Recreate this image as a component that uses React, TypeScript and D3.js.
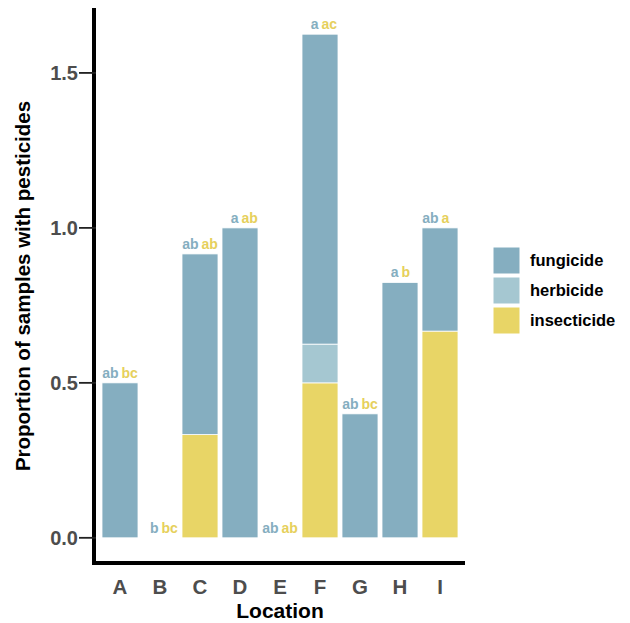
import React from "react";
import * as d3 from "d3";

const locations = ["A", "B", "C", "D", "E", "F", "G", "H", "I"];
const fungicide = [0.5, 0, 0.583, 1.0, 0, 1.0, 0.4, 0.824, 0.333];
const herbicide = [0, 0, 0, 0, 0, 0.125, 0, 0, 0];
const insecticide = [0, 0, 0.333, 0, 0, 0.5, 0, 0, 0.667];
const fungLetters = ["ab", "b", "ab", "a", "ab", "a", "ab", "a", "ab"];
const insectLetters = ["bc", "bc", "ab", "ab", "ab", "ac", "bc", "b", "a"];
const yTicks = [0, 0.5, 1.0, 1.5];

const keys = ["insecticide", "herbicide", "fungicide"];
const legendKeys = ["fungicide", "herbicide", "insecticide"];
const COLORS: Record<string, string> = {
  fungicide: "#85aec0",
  herbicide: "#a5c7d1",
  insecticide: "#e8d566",
};
const YELLOW_TXT = "#e6d05c";

const W = 630;
const H = 623;
const PL = 96, PR = 464, PT = 9, PB = 563;
const FONT = "'Liberation Sans', Arial, Helvetica, sans-serif";

export default function App() {
  const rows = locations.map((loc, i) => ({
    loc,
    fungicide: fungicide[i],
    herbicide: herbicide[i],
    insecticide: insecticide[i],
  }));
  const series = d3.stack<any>().keys(keys)(rows);
  const totals = rows.map((r) => r.fungicide + r.herbicide + r.insecticide);
  const maxT = d3.max(totals) as number;

  // ggplot-like 5% expansion
  const y = d3.scaleLinear().domain([-0.05 * maxT, maxT * 1.05]).range([PB, PT]);
  const step = (PR - PL) / (locations.length - 1 + 1.2);
  const x = (i: number) => PL + step * (0.6 + i);
  const bw = step * 0.9;

  return (
    <svg width={W} height={H} style={{ position: "absolute", left: 0, top: 0, background: "#fff" }}
      fontFamily={FONT}>
      {/* bars */}
      {series.map((s) => (
        <g key={s.key} fill={COLORS[s.key]}>
          {s.map((d, i) =>
            d[1] - d[0] > 0 ? (
              <rect key={i} x={x(i) - bw / 2} width={bw} y={y(d[1])} height={y(d[0]) - y(d[1])}
                stroke="#fff" strokeWidth={0.8} />
            ) : null
          )}
        </g>
      ))}
      {/* letters */}
      {locations.map((loc, i) => (
        <g key={loc} fontSize={14} fontWeight="bold">
          <text x={x(i) - 1.5} y={y(totals[i]) - 5} textAnchor="end" fill={COLORS.fungicide}>{fungLetters[i]}</text>
          <text x={x(i) + 1.5} y={y(totals[i]) - 5} textAnchor="start" fill={YELLOW_TXT}>{insectLetters[i]}</text>
        </g>
      ))}
      {/* axes */}
      <path d={`M${PL - 2},${PT - 1} V${PB} H${PR + 1}`} fill="none" stroke="#000" strokeWidth={4} />
      {yTicks.map((t) => (
        <g key={t}>
          <line x1={79} x2={PL} y1={y(t)} y2={y(t)} stroke="#222" strokeWidth={1.8} />
          <text x={78} y={y(t)} dy="0.36em" textAnchor="end" fontSize={20} fontWeight="bold" fill="#4d4d4d">
            {t.toFixed(1)}
          </text>
        </g>
      ))}
      {locations.map((loc, i) => (
        <text key={loc} x={x(i)} y={PB + 31} textAnchor="middle" fontSize={20.5} fontWeight="bold" fill="#4d4d4d">
          {loc}
        </text>
      ))}
      <text x={(PL + PR) / 2} y={618} textAnchor="middle" fontSize={21} fontWeight="bold" fill="#000">Location</text>
      <text transform={`translate(30,${(PT + PB) / 2}) rotate(-90)`} textAnchor="middle" fontSize={20.5}
        fontWeight="bold" fill="#000">
        Proportion of samples with pesticides
      </text>
      {/* legend */}
      {legendKeys.map((k, i) => (
        <g key={k} transform={`translate(493,${247 + i * 30})`}>
          <rect width={27} height={27} fill={COLORS[k]} stroke="#fff" strokeWidth={1} />
          <text x={37} y={13.5} dy="0.36em" fontSize={16.5} fontWeight="bold" fill="#000">{k}</text>
        </g>
      ))}
    </svg>
  );
}
